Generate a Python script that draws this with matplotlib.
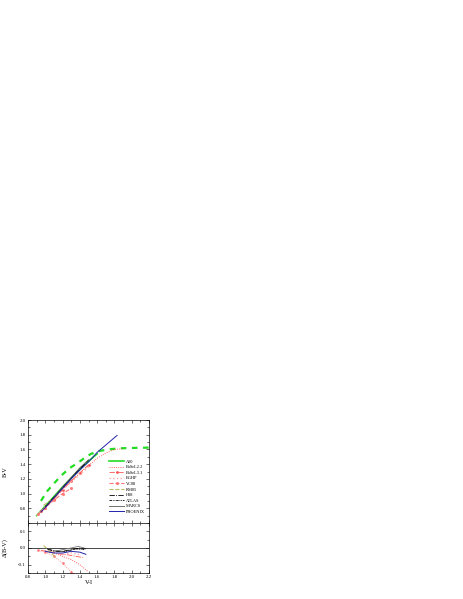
import matplotlib.pyplot as plt
from matplotlib.ticker import MultipleLocator

plt.rcParams['font.family'] = ['Liberation Serif', 'DejaVu Serif']

# top panel: B-V vs V-I for each model
vi_a00 = [0.9, 1.0, 1.1, 1.2, 1.3, 1.4, 1.5, 1.6]
bv_a00 = [0.70, 0.83, 0.96, 1.09, 1.21, 1.33, 1.44, 1.54]

vi_basel22 = [0.95, 1.0, 1.1, 1.2, 1.3, 1.4, 1.5, 1.6, 1.7, 1.8, 1.9]
bv_basel22 = [0.76, 0.82, 0.94, 1.05, 1.17, 1.28, 1.38, 1.48, 1.55, 1.60, 1.61]

vi_basel31 = [0.95, 1.0, 1.1, 1.2, 1.3, 1.4, 1.5]
bv_basel31 = [0.76, 0.81, 0.93, 1.05, 1.17, 1.28, 1.39]

vi_bghp = [0.9, 1.0, 1.1, 1.2, 1.3, 1.4, 1.5]
bv_bghp = [0.70, 0.82, 0.94, 1.05, 1.16, 1.26, 1.36]

vi_vc08 = [0.92, 1.0, 1.1, 1.2, 1.3]
bv_vc08 = [0.72, 0.81, 0.91, 1.00, 1.07]

vi_rm05 = [0.98, 1.05, 1.12]
bv_rm05 = [0.84, 0.90, 0.96]

vi_h98 = [1.0, 1.1, 1.2, 1.3, 1.4, 1.5]
bv_h98 = [0.82, 0.95, 1.08, 1.21, 1.34, 1.45]

vi_atlas = [1.05, 1.15, 1.25, 1.35, 1.45]
bv_atlas = [0.88, 1.01, 1.14, 1.27, 1.39]

vi_marcs = [1.1, 1.2, 1.3, 1.4, 1.5]
bv_marcs = [0.95, 1.09, 1.22, 1.35, 1.46]

vi_phoenix = [0.95, 1.0, 1.1, 1.2, 1.3, 1.4, 1.5, 1.6, 1.7, 1.83]
bv_phoenix = [0.75, 0.81, 0.94, 1.07, 1.20, 1.32, 1.43, 1.56, 1.66, 1.79]

vi_upper = [0.95, 1.02, 1.11, 1.19, 1.28, 1.38, 1.46, 1.53, 1.63, 1.73, 1.85, 2.0, 2.2]
bv_upper = [0.90, 1.03, 1.15, 1.25, 1.345, 1.42, 1.49, 1.54, 1.58, 1.60, 1.615, 1.62, 1.625]

# bottom panel: residuals
dvi_basel22 = [1.0, 1.1, 1.2, 1.3, 1.4, 1.49]
dbv_basel22 = [-0.02, -0.03, -0.05, -0.07, -0.10, -0.14]

dvi_vc08 = [0.92, 1.0, 1.1, 1.2, 1.3, 1.32]
dbv_vc08 = [-0.015, -0.025, -0.05, -0.09, -0.145, -0.155]

dvi_basel31 = [0.95, 1.05, 1.15, 1.25, 1.35, 1.44]
dbv_basel31 = [-0.015, -0.02, -0.035, -0.04, -0.05, -0.057]

dvi_bghp = [1.0, 1.1, 1.2, 1.3, 1.4]
dbv_bghp = [-0.02, -0.03, -0.04, -0.03, -0.04]

dvi_rm05 = [0.98, 1.03, 1.08, 1.12]
dbv_rm05 = [0.015, -0.01, -0.035, -0.06]

dvi_h98 = [1.02, 1.1, 1.2, 1.3, 1.4, 1.47]
dbv_h98 = [-0.005, -0.02, -0.02, -0.01, 0.0, -0.005]

dvi_atlas = [1.05, 1.15, 1.25, 1.35, 1.45]
dbv_atlas = [-0.01, -0.02, -0.02, -0.005, -0.01]

dvi_marcs = [1.1, 1.2, 1.3, 1.38, 1.45]
dbv_marcs = [-0.02, -0.01, 0.0, 0.01, 0.0]

dvi_phoenix = [1.0, 1.1, 1.2, 1.3, 1.4, 1.47]
dbv_phoenix = [-0.02, -0.03, -0.03, -0.02, -0.025, -0.038]

fig = plt.figure(figsize=(4.63, 5.99), dpi=100)
ax1 = fig.add_axes([0.0605, 0.1269, 0.2613, 0.1719])
ax2 = fig.add_axes([0.0605, 0.0434, 0.2613, 0.0835], sharex=ax1)

lw = 0.6
ax1.plot(vi_upper, bv_upper, color='#22dd22', lw=1.6, ls=(0, (2.5, 2.5)))
ax1.plot(vi_a00, bv_a00, color='#22dd22', lw=1.2, label='A00')
ax1.plot(vi_basel22, bv_basel22, color='#ff3333', lw=lw, ls=':', label='BaSeL2.2')
ax1.plot(vi_basel31, bv_basel31, color='#ff5555', lw=lw, ls='-.', marker='o', ms=1, label='BaSeL3.1')
ax1.plot(vi_bghp, bv_bghp, color='#ffaaaa', lw=1.0, ls=':', label='BGHP')
ax1.plot(vi_vc08, bv_vc08, color='#ff7777', lw=0.8, ls='--', marker='s', ms=1, label='VC08')
ax1.plot(vi_rm05, bv_rm05, color='#bbbb66', lw=0.8, ls='--', label='RM05')
ax1.plot(vi_h98, bv_h98, color='black', lw=lw, ls='-.', label='H98')
ax1.plot(vi_atlas, bv_atlas, color='black', lw=lw, ls=(0, (3, 1, 1, 1, 1, 1)), label='ATLAS')
ax1.plot(vi_marcs, bv_marcs, color='#555555', lw=lw, label='MARCS')
ax1.plot(vi_phoenix, bv_phoenix, color='#2222aa', lw=0.7, label='PHOENIX')

ax2.axhline(0, color='black', lw=0.5)
ax2.plot(dvi_basel22, dbv_basel22, color='#ff3333', lw=lw, ls=':')
ax2.plot(dvi_vc08, dbv_vc08, color='#ff7777', lw=lw, ls=':', marker='s', ms=0.8)
ax2.plot(dvi_basel31, dbv_basel31, color='#ff5555', lw=lw, ls='-.')
ax2.plot(dvi_bghp, dbv_bghp, color='#ffaaaa', lw=1.0, ls=':')
ax2.plot(dvi_rm05, dbv_rm05, color='#bbbb66', lw=0.8, ls='--')
ax2.plot(dvi_h98, dbv_h98, color='black', lw=lw, ls='-.')
ax2.plot(dvi_atlas, dbv_atlas, color='black', lw=lw, ls=(0, (3, 1, 1, 1, 1, 1)))
ax2.plot(dvi_marcs, dbv_marcs, color='#777777', lw=lw)
ax2.plot(dvi_phoenix, dbv_phoenix, color='#2222aa', lw=0.7)

ax1.set_xlim(0.8, 2.2)
ax1.set_ylim(0.6, 2.0)
ax2.set_ylim(-0.15, 0.15)

ax1.yaxis.set_major_locator(MultipleLocator(0.2))
ax1.yaxis.set_minor_locator(MultipleLocator(0.1))
ax1.yaxis.set_major_formatter(plt.FuncFormatter(lambda v, p: '' if v < 0.7 else f'{v:.1f}'))
ax1.xaxis.set_major_locator(MultipleLocator(0.2))
ax1.xaxis.set_minor_locator(MultipleLocator(0.1))
ax2.yaxis.set_major_locator(MultipleLocator(0.1))
ax2.yaxis.set_minor_locator(MultipleLocator(0.05))
ax2.yaxis.set_major_formatter(plt.FuncFormatter(lambda v, p: '' if abs(v) > 0.12 else f'{v:.1f}'.replace('-0.0', '0.0')))

for ax in (ax1, ax2):
    ax.tick_params(which='both', direction='in', top=True, right=True, labelsize=3.5, pad=1.5, width=0.4)
    ax.tick_params(which='major', length=2.5)
    ax.tick_params(which='minor', length=1.3)
    for s in ax.spines.values():
        s.set_linewidth(0.5)
ax1.tick_params(labelbottom=False)

ax1.set_ylabel('B-V', fontsize=4.5)
ax2.set_ylabel('Δ(B-V)', fontsize=4.5)
ax1.yaxis.set_label_coords(-0.17, 0.5)
ax2.yaxis.set_label_coords(-0.17, 0.5)
ax2.set_xlabel('V-I', fontsize=4.5, labelpad=0.5)

ax1.legend(loc='lower right', bbox_to_anchor=(0.99, 0.06), frameon=False, fontsize=3.2,
           handlelength=3.5, labelspacing=0.32, handletextpad=0.3, borderpad=0.2)

fig.savefig('out.png', dpi=100)
